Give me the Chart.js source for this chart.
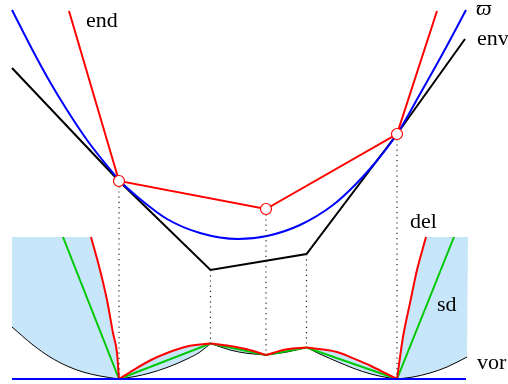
<!DOCTYPE html>
<html>
<head>
<meta charset="utf-8">
<script src="https://cdn.jsdelivr.net/npm/chart.js@4.4.1/dist/chart.umd.min.js"></script>
<style>
  html, body { margin: 0; padding: 0; background: #fff; overflow: hidden; }
  canvas { display: block; }
</style>
</head>
<body>
<canvas id="c" width="508" height="384"></canvas>
<script>
// ---- data (x, y) in the diagram's plane, y pointing up ----
const varpi      = [[12,374],[33,333],[50,302],[67,274],[87,244],[100,227],[120,203],[140,185],[167,165],[200,151],[238,145],[267,148],[300,159],[333,179],[355,199],[375,221],[397,250],[420,290],[443,331],[466,374]];
const envelope   = [[12,316],[119,203],[210.5,114],[306.5,130],[397,250],[465,345]];
const endChain   = [[69,373],[119,203],[266,175],[397,250],[437,373]];
const endSites   = [[119,203],[266,175],[397,250]];

// lifted sites on the lower picture
const sites      = [[119,5],[210.5,40.5],[266,29],[306.5,36.5],[397,5]];

const vorLeft    = [[12,57],[33,39],[50,27],[67,18],[83,12],[100,8],[119,5]];
const vorAB      = [[119,5],[135,7.5],[150,11],[167,16.5],[187,25],[200,32],[210.5,40.5]];
const vorBC      = [[210.5,40.5],[230,34],[247,30.7],[266,29]];
const vorCD      = [[266,29],[287,32],[306.5,36.5]];
const vorDE      = [[306.5,36.5],[322,29],[337,22.5],[354,15.5],[371,10],[387,6.5],[397,5]];
const vorRight   = [[397,5],[413,7],[430,11],[447,17],[467,27]];

const delLeft    = [[91,147],[100,114],[107,84],[113,51],[117,31],[119,5]];
const delAB      = [[119,5],[133,13.7],[150,23.5],[167,31],[187,37.5],[210.5,40.5]];
const delBC      = [[210.5,40.5],[230,38],[247,34.7],[266,29]];
const delCD      = [[266,29],[287,34.7],[306.5,36.5]];
const delDE      = [[306.5,36.5],[337,32],[354,25.3],[371,18],[387,10],[397,5]];
const delRight   = [[397,5],[403,47],[410,81],[417,114],[426,147]];

const sdLeft     = [[63,147],[119,5]];
const sdRight    = [[397,5],[454,147]];

const baseline   = [[12,5],[466,5]];
const regionTop  = 147;
const regionLeft = 12;
const regionRight = 468;

// vertical projections: x, upper y, lower y
const dropLines  = [[119,203,5],[210.5,114,40.5],[266,175,29],[306.5,130,36.5],[397,250,5]];

const labelTexts = ['end', 'ϖ', 'env', 'del', 'sd', 'vor'];

// ---- helpers ----
const pts = arr => arr.map(([x, y]) => ({x, y}));

function curve(data, color, width, smooth) {
  return {
    data: pts(data),
    showLine: true,
    borderColor: color,
    borderWidth: width,
    pointRadius: 0,
    fill: false,
    tension: 0,
    cubicInterpolationMode: smooth ? 'monotone' : 'default'
  };
}

function region(poly) {
  return {
    data: pts(poly),
    showLine: true,
    borderWidth: 0,
    borderColor: 'rgba(0,0,0,0)',
    backgroundColor: '#c7e6fa',
    pointRadius: 0,
    tension: 0,
    fill: 'shape'
  };
}

const rev = a => a.slice().reverse();

// shaded cells between the del and vor curves
const shadeLeft  = [[regionLeft, regionTop], ...delLeft, ...rev(vorLeft), [regionLeft, regionTop]];
const shadeRight = [...delRight, [regionRight, regionTop], ...rev(vorRight)];
const shadeAB = [...delAB, ...rev(vorAB)];
const shadeBC = [...delBC, ...rev(vorBC)];
const shadeCD = [...delCD, ...rev(vorCD)];
const shadeDE = [...delDE, ...rev(vorDE)];

const RED = '#ff0000', BLUE = '#0000ff', GREEN = '#00c800', BLACK = '#000000';

const datasets = [];
// topmost first
datasets.push({
  data: pts(endSites),
  showLine: false,
  pointRadius: 5.5,
  pointBackgroundColor: '#ffffff',
  pointBorderColor: RED,
  pointBorderWidth: 1.2
});
datasets.push(curve(endChain, RED, 2, false));
dropLines.forEach(([x, top, bottom]) => {
  const d = curve([[x, top], [x, bottom]], '#222', 1.2, false);
  d.borderDash = [1.2, 4];
  datasets.push(d);
});
datasets.push(curve(varpi, BLUE, 2, true));
datasets.push(curve(envelope, BLACK, 2, false));
datasets.push(curve(baseline, BLUE, 2, false));
[delLeft, delAB, delBC, delCD, delDE, delRight].forEach(c => datasets.push(curve(c, RED, 2, true)));
datasets.push(curve(sdLeft, GREEN, 2, false));
datasets.push(curve(sites, GREEN, 2, false));
datasets.push(curve(sdRight, GREEN, 2, false));
[vorLeft, vorAB, vorBC, vorCD, vorDE, vorRight].forEach(c => datasets.push(curve(c, BLACK, 1, true)));
[shadeLeft, shadeRight, shadeAB, shadeBC, shadeCD, shadeDE].forEach(p => datasets.push(region(p)));

// text labels placed in data coordinates
const labelPlugin = {
  id: 'curveLabels',
  afterDatasetsDraw(chart, args, opts) {
    const {ctx, scales: {x, y}} = chart;
    ctx.save();
    ctx.fillStyle = '#000';
    ctx.textAlign = 'left';
    ctx.textBaseline = 'alphabetic';
    opts.items.forEach(it => {
      ctx.font = it.font;
      ctx.fillText(it.text, x.getPixelForValue(it.x), y.getPixelForValue(it.y));
    });
    ctx.restore();
  }
};

const serif = '22px "Liberation Serif", "Times New Roman", serif';
const labelAnchors = [
  {x: 86,  y: 357,  font: serif},
  {x: 476, y: 369,  font: 'italic 22px "Liberation Serif", "DejaVu Serif", serif'},
  {x: 477, y: 339,  font: serif},
  {x: 410, y: 156,  font: serif},
  {x: 437, y: 73,   font: serif},
  {x: 477, y: 15.5, font: serif}
];

new Chart(document.getElementById('c'), {
  type: 'scatter',
  data: { datasets },
  options: {
    responsive: false,
    animation: false,
    devicePixelRatio: 1,
    layout: { padding: 0, autoPadding: false },
    plugins: {
      legend: { display: false },
      tooltip: { enabled: false },
      curveLabels: {
        items: labelTexts.map((t, i) => Object.assign({text: t}, labelAnchors[i]))
      }
    },
    scales: {
      x: { type: 'linear', display: false, min: 0, max: 508 },
      y: { type: 'linear', display: false, min: 0, max: 384 }
    }
  },
  plugins: [labelPlugin]
});
</script>
</body>
</html>
